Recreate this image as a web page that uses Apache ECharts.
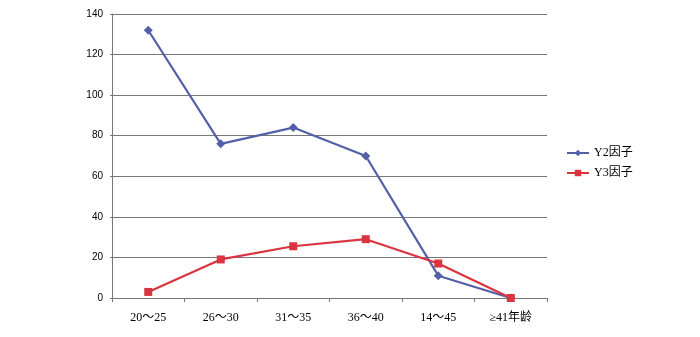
<!DOCTYPE html>
<html>
<head>
<meta charset="utf-8">
<script src="https://cdn.jsdelivr.net/npm/echarts@6/dist/echarts.min.js"></script>
<style>
html,body{margin:0;padding:0;background:#fff;}
#chart{width:700px;height:337px;}
</style>
</head>
<body>
<div id="chart"></div>
<script>
const categories = ['20～25', '26～30', '31～35', '36～40', '14～45', '≥41年龄']
const y2Values = [132, 76, 84, 70, 11, 0]
const y3Values = [3, 19, 25.5, 29, 17, 0]
const yTicks = {min: 0, max: 140, interval: 20}

const serifFont = '"Liberation Serif", "Noto Sans CJK SC", serif'

let chart = echarts.init(document.getElementById('chart'))
let option = {
  animation: false,
  grid: {
    left: 112,
    right: 153,
    top: 14,
    bottom: 39
  },
  legend: {
    orient: 'vertical',
    left: 561,
    top: 142,
    itemWidth: 22,
    itemHeight: 8,
    itemGap: 8,
    textStyle: {
      fontFamily: serifFont,
      fontSize: 12,
      color: '#000'
    },
    data: ['Y2因子', 'Y3因子']
  },
  xAxis: {
    type: 'category',
    data: categories,
    boundaryGap: true,
    axisLine: {lineStyle: {color: '#777', width: 1}},
    axisTick: {show: true, length: 4, inside: false, lineStyle: {color: '#777'}},
    axisLabel: {
      margin: 14,
      color: '#000',
      fontSize: 12,
      fontFamily: serifFont
    }
  },
  yAxis: {
    type: 'value',
    min: yTicks.min,
    max: yTicks.max,
    interval: yTicks.interval,
    axisLine: {show: true, lineStyle: {color: '#777', width: 1}},
    axisTick: {show: true, length: 2, lineStyle: {color: '#777'}},
    axisLabel: {
      margin: 9,
      color: '#000',
      fontSize: 10,
      fontFamily: '"Liberation Sans", Arial, sans-serif'
    },
    splitLine: {lineStyle: {color: '#777', width: 1.2}}
  },
  series: [
    {
      name: 'Y2因子',
      type: 'line',
      data: y2Values,
      symbol: 'diamond',
      symbolSize: 9,
      color: '#5360A8',
      lineStyle: {width: 2.2, color: '#5360A8'},
      itemStyle: {color: '#5360A8'}
    },
    {
      name: 'Y3因子',
      type: 'line',
      data: y3Values,
      symbol: 'rect',
      symbolSize: 8,
      color: '#D9343F',
      lineStyle: {width: 2.2, color: '#D9343F'},
      itemStyle: {color: '#D9343F'}
    }
  ]
}
chart.setOption(option)
</script>
</body>
</html>
